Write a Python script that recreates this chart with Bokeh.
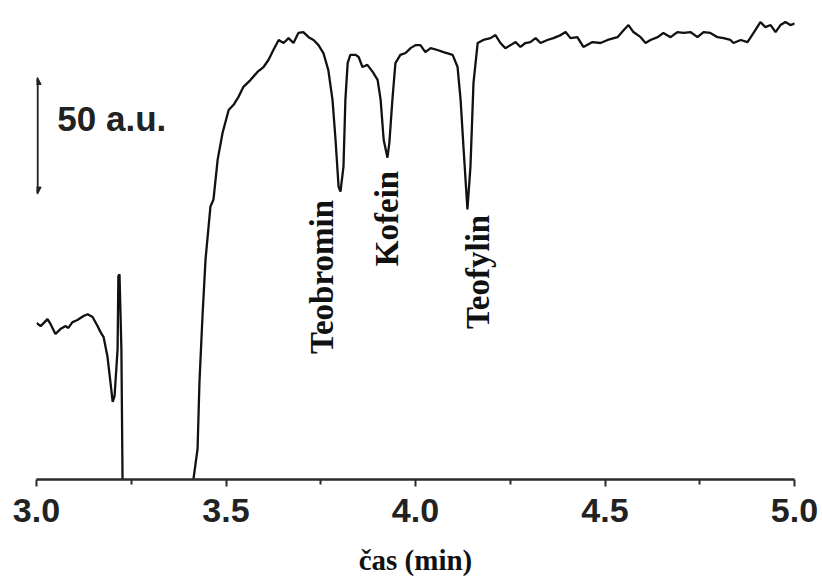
from bokeh.plotting import figure
from bokeh.models import Range1d, FixedTicker, Arrow, NormalHead, Label
from bokeh.embed import file_html
from bokeh.resources import INLINE
import math

# electropherogram trace (time in min, signal in a.u.)
time_min = [3.000, 3.011, 3.029, 3.037, 3.050, 3.063, 3.077, 3.084, 3.095, 3.108,
            3.124, 3.135, 3.148, 3.161, 3.169, 3.177, 3.187, 3.195, 3.201, 3.206,
            3.214, 3.216, 3.219, 3.224, 3.227, 3.232, 3.410,
            3.414, 3.425, 3.430, 3.438, 3.446, 3.459, 3.467, 3.478, 3.491, 3.507,
            3.520, 3.533, 3.546, 3.565, 3.583, 3.599, 3.612, 3.625, 3.639, 3.652,
            3.665, 3.678, 3.691, 3.704, 3.718, 3.731, 3.744, 3.757, 3.770, 3.781,
            3.789, 3.797, 3.802, 3.810, 3.815, 3.821, 3.828, 3.842, 3.850, 3.860,
            3.873, 3.887, 3.900, 3.908, 3.916, 3.926, 3.931, 3.939, 3.947, 3.960,
            3.974, 3.987, 4.000, 4.013, 4.026, 4.040, 4.058, 4.074, 4.098, 4.111,
            4.119, 4.127, 4.137, 4.145, 4.153, 4.164, 4.179, 4.198, 4.211, 4.224,
            4.237, 4.251, 4.264, 4.277, 4.290, 4.303, 4.317, 4.330, 4.348, 4.364,
            4.383, 4.396, 4.409, 4.427, 4.443, 4.467, 4.488, 4.507, 4.533, 4.549,
            4.562, 4.575, 4.594, 4.607, 4.620, 4.639, 4.654, 4.673, 4.691, 4.707,
            4.726, 4.744, 4.760, 4.778, 4.797, 4.813, 4.831, 4.839, 4.858, 4.876,
            4.892, 4.910, 4.923, 4.937, 4.950, 4.963, 4.976, 4.989, 5.003]
signal_au = [67.1, 65.8, 68.8, 66.7, 62.4, 64.5, 65.8, 65.0, 67.5, 68.4,
             70.1, 70.9, 69.7, 65.8, 63.2, 61.1, 53.0, 41.9, 33.3, 35.9,
             56.0, 87.2, 88.0, 56.0, 0.4, -40.0, -40.0,
             0.0, 13.2, 41.9, 70.1, 94.4, 117.1, 120.1, 137.2, 148.7, 158.5,
             160.7, 164.1, 168.4, 171.4, 174.8, 176.9, 179.9, 184.2, 188.5, 187.2,
             189.3, 187.2, 191.5, 191.9, 189.7, 188.5, 186.3, 182.9, 175.6, 162.8,
             145.7, 125.6, 123.5, 134.2, 162.8, 178.6, 182.1, 182.1, 181.2, 176.9,
             177.8, 174.8, 171.4, 162.8, 145.7, 138.0, 144.4, 162.8, 178.6, 182.1,
             182.9, 185.0, 186.3, 186.3, 183.3, 185.0, 184.2, 183.3, 182.1, 176.9,
             162.8, 141.5, 115.8, 134.2, 170.1, 187.2, 188.5, 189.3, 190.6, 187.2,
             185.0, 186.3, 187.6, 185.5, 187.2, 187.6, 189.3, 187.2, 188.5, 189.3,
             190.6, 191.9, 189.3, 189.7, 185.5, 187.6, 187.2, 188.5, 189.7, 192.7,
             194.9, 191.9, 189.7, 187.2, 188.5, 189.7, 191.5, 189.7, 191.9, 191.5,
             191.9, 189.7, 191.9, 191.5, 189.7, 189.3, 188.5, 187.2, 188.5, 187.6,
             191.5, 196.2, 194.0, 194.9, 191.9, 194.9, 196.2, 194.9, 195.7]

tick_values = [3.0, 3.5, 4.0, 4.5, 5.0]
tick_labels = ["3.0", "3.5", "4.0", "4.5", "5.0"]
minor_ticks = [3.25, 3.75, 4.25, 4.75]

peak_names = ["Teobromin", "Kofein", "Teofylin"]
scale_bar_au = 50

p = figure(width=822, height=578, output_backend="svg", toolbar_location=None,
           x_range=Range1d(3.0, 5.0), y_range=Range1d(0, 202),
           y_axis_location=None, min_border_left=36, min_border_right=28,
           min_border_top=8, min_border_bottom=97)
p.outline_line_color = None
p.xgrid.grid_line_color = None
p.ygrid.grid_line_color = None
p.background_fill_color = "white"
p.border_fill_color = "white"

p.line(time_min, signal_au, line_color="#111111", line_width=2.3)

ax = p.xaxis[0]
ax.ticker = FixedTicker(ticks=tick_values, minor_ticks=minor_ticks)
ax.major_label_overrides = {v: l for v, l in zip(tick_values, tick_labels)}
ax.axis_line_width = 2.5
ax.axis_line_color = "#2a2a2a"
ax.major_tick_line_width = 2
ax.major_tick_line_color = "#2a2a2a"
ax.minor_tick_line_width = 2
ax.minor_tick_line_color = "#2a2a2a"
ax.major_tick_out = 7
ax.major_tick_in = 0
ax.minor_tick_out = 5
ax.minor_tick_in = 0
ax.major_label_text_font = "Liberation Sans"
ax.major_label_text_font_style = "bold"
ax.major_label_text_font_size = "34px"
ax.major_label_text_color = "#222222"
ax.major_label_standoff = 12
ax.axis_label = "čas (min)"
ax.axis_label_text_font = "Liberation Serif"
ax.axis_label_text_font_style = "bold"
ax.axis_label_text_font_size = "29px"
ax.axis_label_text_color = "#111111"
ax.axis_label_standoff = 19

# scale bar
p.add_layout(Arrow(start=NormalHead(size=7, fill_color="#222222", line_color="#222222"),
                   end=NormalHead(size=7, fill_color="#222222", line_color="#222222"),
                   x_start=3.003, y_start=147.4 - scale_bar_au / 2,
                   x_end=3.003, y_end=147.4 + scale_bar_au / 2,
                   line_width=2, line_color="#222222"))
p.add_layout(Label(x=3.055, y=154.7, text=f"{scale_bar_au} a.u.",
                   text_font="Liberation Sans", text_font_style="bold",
                   text_font_size="35px", text_color="#222222",
                   text_baseline="middle", text_align="left"))

# peak labels (rotated)
label_pos = [(3.752, 53.8), (3.926, 91.5), (4.164, 64.5)]
for name, (lx, ly) in zip(peak_names, label_pos):
    p.add_layout(Label(x=lx, y=ly, text=name, angle=math.pi / 2,
                       text_font="Liberation Serif", text_font_style="bold",
                       text_font_size="33px", text_color="#111111",
                       text_baseline="alphabetic", text_align="left"))

open("out.html", "w").write(file_html(p, INLINE))
